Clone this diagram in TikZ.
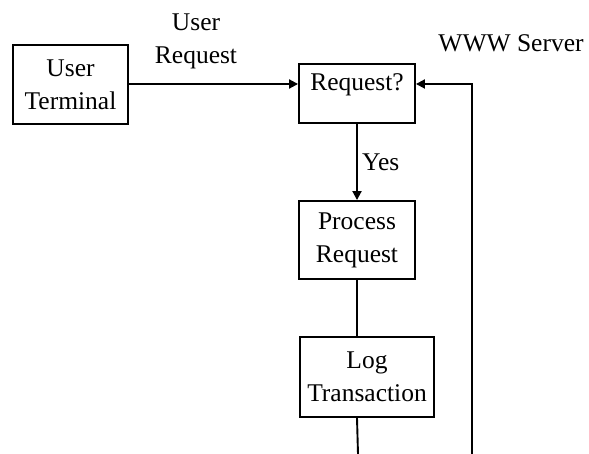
\documentclass[tikz,border=0pt]{standalone}
\usepackage{fontspec}
\setmainfont{Liberation Serif}
\usetikzlibrary{arrows.meta,calc}
\begin{document}
\begin{tikzpicture}[x=1pt,y=-1pt,
  every node/.style={font=\fontsize{25.5}{33}\selectfont},
  box/.style={draw,line width=1.9pt,rectangle,align=center,inner sep=0pt},
  wire/.style={line width=1.9pt},
  flow/.style={wire,-{Triangle[length=9pt,width=9pt]}},
  lbl/.style={align=center,inner sep=0pt}]
  \useasboundingbox (0,0) rectangle (589,454);

  % processing boxes
  \node[box,minimum width=115,minimum height=79] (ut) at (70.5,84.5) {User\\Terminal};
  \node[box,minimum width=116,minimum height=59,
        label={[lbl,anchor=north,yshift=-10pt]north:Request?}] (req) at (357,93.5) {};
  \node[box,minimum width=116,minimum height=78] (proc) at (357,240) {Process\\Request};
  \node[box,minimum width=134,minimum height=80] (log) at (367,377) {Log\\Transaction};

  % free labels
  \node[lbl] (ureq) at (196,41) {User\\Request};
  \node[lbl] (www) at (511,43) {WWW Server};
  \node[lbl,anchor=west] (yes) at (362,162) {Yes};

  % connector end points
  \coordinate (fbtop) at (472,84);
  \coordinate (fbbot) at (472,454);
  \coordinate (outbot) at (358,454);

  % connectors
  \draw[flow] (ut.east |- fbtop) -- (fbtop -| req.west);
  \draw[flow] (fbbot) -- (fbtop) -- (fbtop -| req.east);
  \draw[flow] (req.south) -- (proc.north);
  \draw[wire] (proc.south) -- (proc.south |- log.north);
  \draw[wire] (proc.south |- log.south) -- (outbot);
\end{tikzpicture}
\end{document}
